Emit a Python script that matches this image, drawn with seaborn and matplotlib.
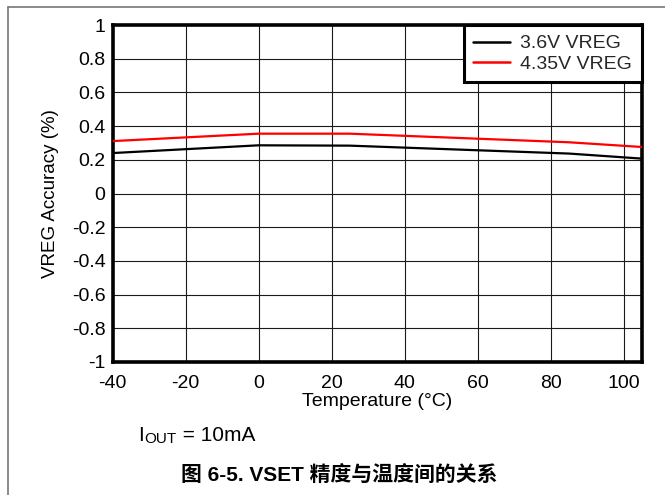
import matplotlib
matplotlib.use("Agg")
import matplotlib.pyplot as plt
import seaborn as sns
import pandas as pd
from matplotlib.lines import Line2D

temps = [-40, 0, 25, 85, 105]
vreg_36 = [0.240, 0.286, 0.284, 0.237, 0.207]
vreg_435 = [0.311, 0.355, 0.355, 0.304, 0.276]
series_names = ["3.6V VREG", "4.35V VREG"]
series_colors = ["black", "#ff0000"]
x_ticks = [-40, -20, 0, 20, 40, 60, 80, 100]
y_ticks = [-1, -0.8, -0.6, -0.4, -0.2, 0, 0.2, 0.4, 0.6, 0.8, 1]
y_tick_labels = ["-1", "-0.8", "-0.6", "-0.4", "-0.2", "0", "0.2", "0.4", "0.6", "0.8", "1"]

df = pd.DataFrame({
    "Temperature": temps * 2,
    "Accuracy": vreg_36 + vreg_435,
    "Series": [series_names[0]] * len(temps) + [series_names[1]] * len(temps),
})

sns.set_theme(style="white")
plt.rcParams["font.family"] = ["Liberation Sans", "Noto Sans CJK SC", "DejaVu Sans"]

fig = plt.figure(figsize=(6.65, 4.95), dpi=100)
ax = fig.add_axes([112.5 / 665, 1 - 362 / 495, (642 - 112.5) / 665, (362 - 25) / 495])

sns.lineplot(data=df, x="Temperature", y="Accuracy", hue="Series",
             palette=dict(zip(series_names, series_colors)), linewidth=1.6,
             ax=ax, legend=False, zorder=3)

FS = 14
ax.set_xlim(-40, 105)
ax.set_ylim(-1, 1)
ax.set_xticks(x_ticks)
ax.set_xticklabels([str(t) for t in x_ticks])
ax.set_yticks(y_ticks)
ax.set_yticklabels(y_tick_labels)
ax.grid(True, color="#1a1a1a", linewidth=0.8)
ax.set_axisbelow(True)
ax.tick_params(axis="both", length=0, labelsize=FS, colors="black")
ax.tick_params(axis="x", pad=9)
ax.tick_params(axis="y", pad=5)
for s in ax.spines.values():
    s.set_visible(True)
    s.set_color("black")
    s.set_linewidth(2.6)
ax.set_xlabel("Temperature (°C)", fontsize=FS, color="black", labelpad=1)
ax.set_ylabel("VREG Accuracy (%)", fontsize=13.5, color="black", labelpad=9)

handles = [Line2D([0], [0], color=c, lw=1.8) for c in series_colors]
leg = ax.legend(handles, series_names, loc="upper right", fontsize=FS,
                frameon=True, fancybox=False, borderaxespad=0,
                handlelength=1.9, handletextpad=0.52, labelspacing=0.14,
                borderpad=0.5)
leg.get_frame().set_edgecolor("black")
leg.get_frame().set_linewidth(2.2)
leg.get_frame().set_alpha(1)

# outer frame lines
fig.add_artist(Line2D([8 / 665, 1], [1 - 7 / 495, 1 - 7 / 495], color="#777777", lw=1.2,
                      transform=fig.transFigure))
fig.add_artist(Line2D([8 / 665, 8 / 665], [0, 1 - 7 / 495], color="#777777", lw=1.2,
                      transform=fig.transFigure))

# I_OUT = 10mA note, built from pieces
renderer = fig.canvas.get_renderer()
base_y = 1 - 441 / 495
t1 = fig.text(138 / 665, base_y, "I", fontsize=15, ha="left", va="baseline", color="black")
bb = t1.get_window_extent(renderer)
x2 = bb.x1 / fig.bbox.width
t2 = fig.text(x2 + 0.5 / 665, base_y - 2 / 495, "OUT", fontsize=11, ha="left", va="baseline", color="black")
bb2 = t2.get_window_extent(renderer)
x3 = bb2.x1 / fig.bbox.width
fig.text(x3, base_y, " = 10mA", fontsize=15, ha="left", va="baseline", color="black")

fig.text(339 / 665, 1 - 476 / 495, "图 6-5. VSET 精度与温度间的关系", fontsize=15,
         fontweight="bold", ha="center", va="center", color="black")

fig.savefig("out.png", dpi=100)
